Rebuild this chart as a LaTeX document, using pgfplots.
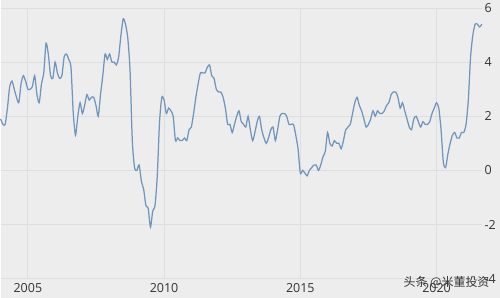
\documentclass[border=0pt]{standalone}
\usepackage{pgfplots}
\usepackage{pgfplotstable}
\pgfplotsset{compat=1.18}
\usepackage{fontspec}
\setmainfont{Open Sans}
\newfontfamily\cjk{Noto Sans CJK SC}
\definecolor{bg}{HTML}{EDEDED}
\definecolor{gridc}{HTML}{DEDEDE}
\definecolor{linec}{HTML}{7096BE}
\definecolor{txt}{HTML}{333333}
\pgfplotstableread{
m v
0 1.9
1 1.7
2 1.7
3 2.3
4 3.1
5 3.3
6 3.0
7 2.7
8 2.5
9 3.2
10 3.5
11 3.3
12 3.0
13 3.0
14 3.1
15 3.5
16 2.8
17 2.5
18 3.2
19 3.6
20 4.7
21 4.3
22 3.5
23 3.4
24 4.0
25 3.6
26 3.4
27 3.5
28 4.2
29 4.3
30 4.1
31 3.8
32 2.1
33 1.3
34 2.0
35 2.5
36 2.1
37 2.4
38 2.8
39 2.6
40 2.7
41 2.7
42 2.4
43 2.0
44 2.8
45 3.5
46 4.3
47 4.1
48 4.3
49 4.0
50 4.0
51 3.9
52 4.2
53 5.0
54 5.6
55 5.4
56 4.9
57 3.7
58 1.1
59 0.1
60 0.0
61 0.2
62 -0.4
63 -0.7
64 -1.3
65 -1.4
66 -2.1
67 -1.5
68 -1.3
69 -0.2
70 1.8
71 2.7
72 2.6
73 2.1
74 2.3
75 2.2
76 2.0
77 1.1
78 1.2
79 1.1
80 1.1
81 1.2
82 1.1
83 1.5
84 1.6
85 2.1
86 2.7
87 3.2
88 3.6
89 3.6
90 3.6
91 3.8
92 3.9
93 3.5
94 3.4
95 3.0
96 2.9
97 2.9
98 2.7
99 2.3
100 1.7
101 1.7
102 1.4
103 1.7
104 2.0
105 2.2
106 1.8
107 1.7
108 1.6
109 2.0
110 1.5
111 1.1
112 1.4
113 1.8
114 2.0
115 1.5
116 1.2
117 1.0
118 1.2
119 1.5
120 1.6
121 1.1
122 1.5
123 2.0
124 2.1
125 2.1
126 2.0
127 1.7
128 1.7
129 1.7
130 1.3
131 0.8
132 -0.1
133 0.0
134 -0.1
135 -0.2
136 0.0
137 0.1
138 0.2
139 0.2
140 0.0
141 0.2
142 0.5
143 0.7
144 1.4
145 1.0
146 0.9
147 1.1
148 1.0
149 1.0
150 0.8
151 1.1
152 1.5
153 1.6
154 1.7
155 2.1
156 2.5
157 2.7
158 2.4
159 2.2
160 1.9
161 1.6
162 1.7
163 1.9
164 2.2
165 2.0
166 2.2
167 2.1
168 2.1
169 2.2
170 2.4
171 2.5
172 2.8
173 2.9
174 2.9
175 2.7
176 2.3
177 2.5
178 2.2
179 1.9
180 1.6
181 1.5
182 1.9
183 2.0
184 1.8
185 1.6
186 1.8
187 1.7
188 1.7
189 1.8
190 2.1
191 2.3
192 2.5
193 2.3
194 1.5
195 0.3
196 0.1
197 0.6
198 1.0
199 1.3
200 1.4
201 1.2
202 1.2
203 1.4
204 1.4
205 1.7
206 2.6
207 4.2
208 5.0
209 5.4
210 5.4
211 5.3
212 5.4
}\cpi
\begin{document}
\begin{tikzpicture}
\fill[bg] (0pt,0pt) rectangle (500pt,298pt);
\begin{axis}[
  at={(0pt,19pt)}, anchor=south west,
  scale only axis, width=482pt, height=271pt,
  xmin=2004.0, xmax=2021.67, ymin=-4, ymax=6,
  axis line style={draw=none},
  xtick={2005,2010,2015,2020},
  xticklabels={2005,2010,2015,2020},
  ytick={-4,-2,0,2,4,6},
  yticklabel pos=right,
  tick style={draw=none},
  grid=major,
  major grid style={gridc, line width=0.8pt},
  ticklabel style={font=\fontsize{12.5}{13}\selectfont, text=txt},
  xticklabel style={yshift=-1pt},
  yticklabel style={xshift=-1pt},
  /pgf/number format/assume math mode=true,
  clip=false,
]
\addplot[linec, line width=1.25pt, smooth, tension=0.4] table[x expr=2004+\thisrow{m}/12, y=v] {\cpi};
\end{axis}
\node[anchor=east, text=txt, font=\cjk\fontsize{12}{13}\selectfont] at (493pt,15pt) {头条 @米董投资};
\end{tikzpicture}
\end{document}
